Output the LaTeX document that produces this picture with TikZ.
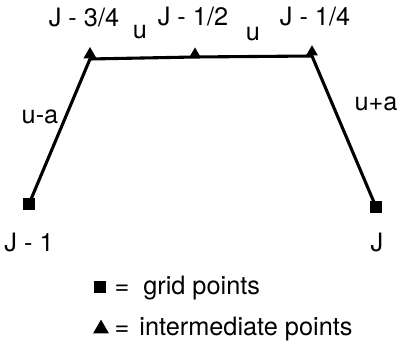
\documentclass[tikz,border=0pt]{standalone}
\usepackage{fontspec}
\setmainfont{TeX Gyre Heros}
\usetikzlibrary{shapes.geometric}
\tikzset{
  gridpt/.style={rectangle, fill=black, inner sep=0pt, minimum size=0.145cm},
  midpt/.style={regular polygon, regular polygon sides=3, fill=black,
    inner sep=0pt, minimum size=0.19cm, anchor=south},
  lbl/.style={font=\fontsize{9}{11}\selectfont, inner sep=0pt},
  seg/.style={line width=1.1pt, line join=round}
}

\begin{document}
\begin{tikzpicture}[x=0.0125cm, y=-0.0125cm]
  \useasboundingbox (0,0) rectangle (397,343);

  % grid points and intermediate points
  \node[gridpt] (jm1) at (29,204) {};
  \node[gridpt] (j)   at (376,207) {};
  \node[midpt] (jm34) at (90,59) {};
  \node[midpt, minimum size=0.15cm] (jm12) at (195,57) {};
  \node[midpt, minimum size=0.17cm] (jm14) at (312,56) {};

  % connectors
  \draw[seg] (jm1.center) -- (jm34.south) -- (jm12.south) -- (jm14.south) -- (j.center);

  % point labels
  \node[lbl] (tjm34) at (84,18) {J - 3/4};
  \node[lbl] (tjm12) at (193,17) {J - 1/2};
  \node[lbl] (tjm14) at (315,17) {J - 1/4};
  \node[lbl] (tjm1)  at (29,243) {J - 1};
  \node[lbl] (tj)    at (377,243) {J};

  % speeds
  \node[lbl] (ul) at (140,32) {u};
  \node[lbl] (ur) at (253,34) {u};
  \node[lbl] (uma) at (40,117) {u-a};
  \node[lbl] (upa) at (376,104) {u+a};

  % legend
  \node[gridpt, minimum size=0.16cm] (leggrid) at (100,287) {};
  \node[lbl, anchor=west] (legtxt1) at (114,288) {=\hspace{0.55em}grid points};
  \node[midpt, minimum size=0.23cm] (legmid) at (101,334) {};
  \node[lbl, anchor=west] (legtxt2) at (114,329) {=\hspace{0.4em}intermediate points};
\end{tikzpicture}
\end{document}
